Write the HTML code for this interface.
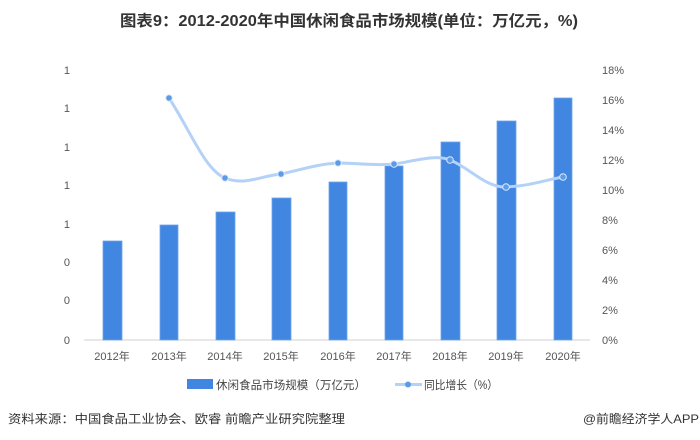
<!DOCTYPE html>
<html><head><meta charset="utf-8"><style>
body{margin:0;background:#fff;}
svg{display:block;font-family:"Liberation Sans","Noto Sans CJK SC",sans-serif;}
</style></head><body>
<svg width="700" height="440" viewBox="0 0 700 440" xmlns="http://www.w3.org/2000/svg">
<rect width="700" height="440" fill="#fff"/>
<text x="120" y="26" textLength="458" lengthAdjust="spacingAndGlyphs" font-size="15.5" font-weight="bold" fill="#333">图表9：2012-2020年中国休闲食品市场规模(单位：万亿元，%)</text>
<g font-size="11" fill="#555">
<text x="70" y="74" text-anchor="end">1</text>
<text x="70" y="112" text-anchor="end">1</text>
<text x="70" y="151" text-anchor="end">1</text>
<text x="70" y="189" text-anchor="end">1</text>
<text x="70" y="228" text-anchor="end">1</text>
<text x="70" y="266" text-anchor="end">0</text>
<text x="70" y="304" text-anchor="end">0</text>
<text x="70" y="344" text-anchor="end">0</text>
<text x="602" y="74">18%</text><text x="602" y="104">16%</text><text x="602" y="134">14%</text>
<text x="602" y="164">12%</text><text x="602" y="194">10%</text><text x="602" y="224">8%</text>
<text x="602" y="254">6%</text><text x="602" y="284">4%</text><text x="602" y="314">2%</text>
<text x="602" y="344">0%</text>
</g>
<line x1="84" y1="340" x2="590" y2="340" stroke="#d0d0d0" stroke-width="1"/>
<g fill="#4186e0" stroke="#6fa3ea" stroke-width="0.8">
<rect x="103" y="241" width="19" height="99"/>
<rect x="160" y="225" width="18" height="115"/>
<rect x="216" y="212" width="19" height="128"/>
<rect x="272" y="198" width="19" height="142"/>
<rect x="329" y="182" width="18" height="158"/>
<rect x="385" y="166" width="18" height="174"/>
<rect x="441" y="142" width="19" height="198"/>
<rect x="497" y="121" width="19" height="219"/>
<rect x="554" y="98" width="18" height="242"/>
</g>
<path d="M169,98 C190,130 205,170 225,178 C245,186 260,176 281,174 C300,170 318,164 338,163 C358,163 375,166 394,164 C415,161 435,154 450,160 C470,168 486,188 506,187 C530,186 545,180 563,177" fill="none" stroke="#b4d2f7" stroke-width="3"/>
<g fill="#5b9be8" stroke="#dfeafb" stroke-width="1">
<circle cx="169" cy="98" r="3.3"/><circle cx="225" cy="178" r="3.3"/><circle cx="281" cy="174" r="3.3"/>
<circle cx="338" cy="163" r="3.3"/><circle cx="394" cy="164" r="3.3"/><circle cx="450" cy="160" r="3.3"/>
<circle cx="506" cy="187" r="3.3"/><circle cx="563" cy="177" r="3.3"/>
</g>
<g font-size="11" fill="#555" text-anchor="middle">
<text x="112" y="360">2012年</text><text x="169" y="360">2013年</text><text x="225" y="360">2014年</text>
<text x="281" y="360">2015年</text><text x="338" y="360">2016年</text><text x="394" y="360">2017年</text>
<text x="450" y="360">2018年</text><text x="506" y="360">2019年</text><text x="563" y="360">2020年</text>
</g>
<rect x="187" y="379" width="26" height="10" fill="#4186e0"/>
<text x="216" y="389" textLength="150" lengthAdjust="spacingAndGlyphs" font-size="11.5" fill="#444">休闲食品市场规模（万亿元）</text>
<line x1="395" y1="384.5" x2="422" y2="384.5" stroke="#b4d2f7" stroke-width="3"/>
<circle cx="408" cy="384.5" r="3" fill="#5b9be8"/>
<text x="424" y="389" textLength="74" lengthAdjust="spacingAndGlyphs" font-size="11.5" fill="#444">同比增长（%）</text>
<text x="8" y="423" textLength="337" lengthAdjust="spacingAndGlyphs" font-size="12" fill="#333">资料来源：中国食品工业协会、欧睿 前瞻产业研究院整理</text>
<text x="583" y="423" textLength="116" lengthAdjust="spacingAndGlyphs" font-size="12" fill="#333">@前瞻经济学人APP</text>
</svg>
</body></html>
